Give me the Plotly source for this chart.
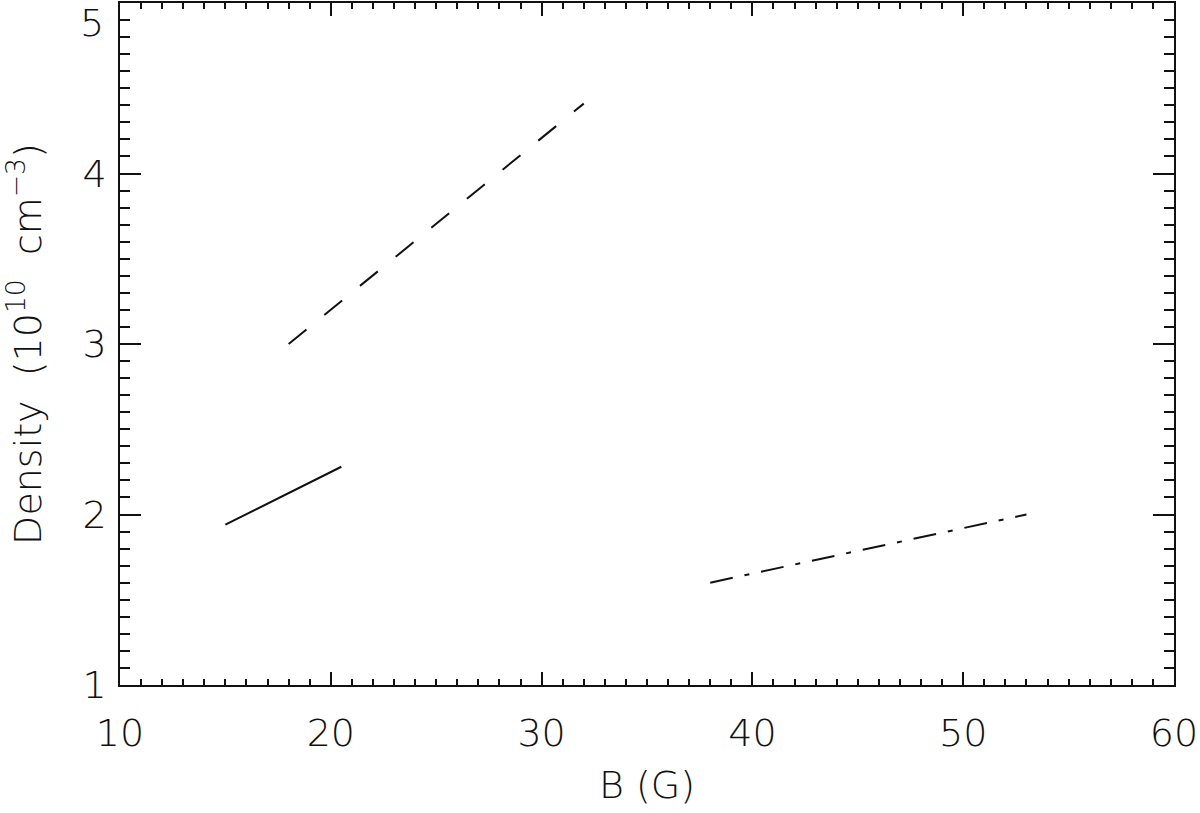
import plotly.graph_objects as go

# Data
solid_B = [15.0, 20.5]
solid_n = [1.94, 2.28]
dashed_B = [18.0, 32.0]
dashed_n = [3.0, 4.41]
dashdot_B = [38.0, 53.0]
dashdot_n = [1.60, 2.00]

x_ticks = [10, 20, 30, 40, 50, 60]
y_ticks = [1, 2, 3, 4]

FONT = "DejaVu Sans"
INK = "#111111"

fig = go.Figure()
fig.add_trace(go.Scatter(x=solid_B, y=solid_n, mode="lines",
                         line=dict(color=INK, width=2, dash="solid"), showlegend=False))
fig.add_trace(go.Scatter(x=dashed_B, y=dashed_n, mode="lines",
                         line=dict(color=INK, width=2, dash="23px,23px"), showlegend=False))
fig.add_trace(go.Scatter(x=dashdot_B, y=dashdot_n, mode="lines",
                         line=dict(color=INK, width=2, dash="23px,12px,5px,12px"), showlegend=False))

fig.update_layout(
    width=1200, height=813,
    margin=dict(l=120, r=26, t=3, b=128),
    paper_bgcolor="white", plot_bgcolor="white",
    font=dict(family=FONT, size=38, color=INK),
    showlegend=False,
)
fig.update_xaxes(
    range=[10, 60], tickvals=x_ticks, ticktext=[str(v) for v in x_ticks],
    showgrid=False, zeroline=False, automargin=False,
    showline=True, linecolor=INK, linewidth=1.5, mirror="allticks",
    ticks="inside", ticklen=13, tickwidth=1.5, tickcolor=INK,
    minor=dict(dtick=1, ticks="inside", ticklen=6, tickwidth=1.5, tickcolor=INK, showgrid=False),
    tickfont=dict(family=FONT, size=38, color=INK, weight=300),
    ticklabelstandoff=14,
    title=dict(text="B (G)", font=dict(family=FONT, size=38, color=INK, weight=300), standoff=17),
)
fig.update_yaxes(
    range=[1, 5], tickvals=y_ticks, ticktext=[str(v) for v in y_ticks],
    showgrid=False, zeroline=False, automargin=False,
    showline=True, linecolor=INK, linewidth=1.5, mirror="allticks",
    ticks="inside", ticklen=21, tickwidth=1.5, tickcolor=INK,
    minor=dict(dtick=0.1, ticks="inside", ticklen=10, tickwidth=1.5, tickcolor=INK, showgrid=False),
    tickfont=dict(family=FONT, size=38, color=INK, weight=300),
    ticklabelstandoff=4,
    title=dict(text="Density  (10<sup>10</sup>  cm<sup>−3</sup>)",
               font=dict(family=FONT, size=38, color=INK, weight=300), standoff=29),
)
# top tick label "5" sits just below the frame edge in the reference
fig.add_annotation(x=0, xref="paper", y=5, yref="y", text="5", showarrow=False,
                   xanchor="right", yanchor="top", xshift=-15, yshift=3, borderpad=0,
                   font=dict(family=FONT, size=38, color=INK, weight=300))

fig.write_html("out.html", config={"displayModeBar": False},
               post_script="document.body.style.margin='0px';")
